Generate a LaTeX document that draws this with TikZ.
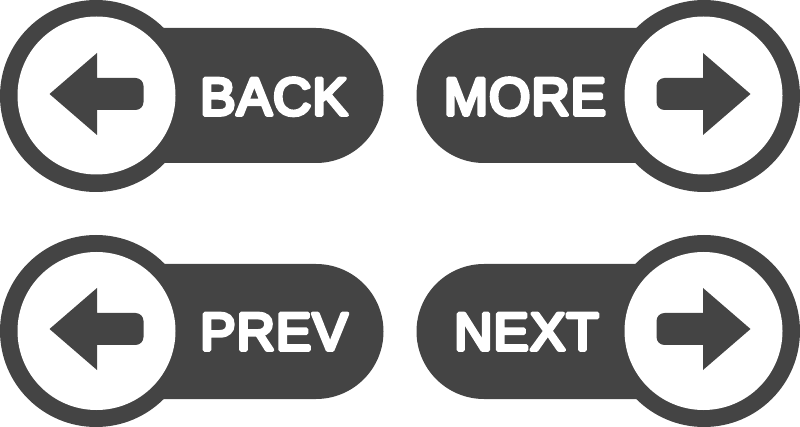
\documentclass[tikz,border=0pt]{standalone}
\usepackage{fontspec}
\setmainfont{Liberation Sans}
\newfontface\lblface[FakeBold=7,Kerning=Off,LetterSpace=2]{Liberation Sans}
\newcommand{\rnd}{\special{pdf:code 1 j 1 J}}
\definecolor{dk}{HTML}{444444}
\tikzset{
 pillbody/.style={fill=dk,draw=none},
 ringo/.style={circle,fill=dk,minimum size=192pt,inner sep=0pt,draw=none},
 ringi/.style={circle,fill=white,minimum size=158pt,inner sep=0pt,draw=none},
 lbl/.style={text=white,font=\lblface\fontsize{53}{53}\selectfont,inner sep=0pt}
}
\newcommand{\larrow}[2]{%
 \fill[dk,shift={(#1,#2)}] (-47,0) -- (0.5,-41) -- (0.5,-16) -- (39,-16) arc[start angle=-90,end angle=0,radius=8] -- (47,8) arc[start angle=0,end angle=90,radius=8] -- (0.5,16) -- (0.5,41) -- cycle;}
\newcommand{\rarrow}[2]{%
 \fill[dk,shift={(#1,#2)}] (47,0) -- (-0.5,-41) -- (-0.5,-16) -- (-39,-16) arc[start angle=-90,end angle=-180,radius=8] -- (-47,8) arc[start angle=-180,end angle=-270,radius=8] -- (-0.5,16) -- (-0.5,41) -- cycle;}
\begin{document}
\begin{tikzpicture}[x=1pt,y=-1pt]
\useasboundingbox (0,0) rectangle (800,427);
% BACK
\fill[pillbody] (96,28) -- (316,28) arc[start angle=-90,end angle=90,radius=67.5] -- (96,163) -- cycle;
\node[ringo] (o1) at (96,96) {};
\node[ringi] (i1) at (96.5,95.5) {};
\larrow{96.5}{94}
\node[lbl,anchor=base] (t1) at (274,115) {\rnd BACK};
% MORE
\fill[pillbody] (704,28) -- (484,28) arc[start angle=-90,end angle=-270,radius=67.5] -- (704,163) -- cycle;
\node[ringo] (o2) at (704,96) {};
\node[ringi] (i2) at (703.5,95.5) {};
\rarrow{703.5}{94}
\node[lbl,anchor=base] (t2) at (525,115) {\rnd MORE};
% PREV
\fill[pillbody] (96,264) -- (316,264) arc[start angle=-90,end angle=90,radius=67.5] -- (96,399) -- cycle;
\node[ringo] (o3) at (96,331) {};
\node[ringi] (i3) at (96.5,331) {};
\larrow{96.5}{329}
\node[lbl,anchor=base] (t3) at (274,350) {\rnd PREV};
% NEXT
\fill[pillbody] (704,264) -- (484,264) arc[start angle=-90,end angle=-270,radius=67.5] -- (704,399) -- cycle;
\node[ringo] (o4) at (704,331) {};
\node[ringi] (i4) at (703.5,331) {};
\rarrow{703.5}{329}
\node[lbl,anchor=base] (t4) at (526.5,350) {\rnd NEXT};
\end{tikzpicture}
\end{document}
